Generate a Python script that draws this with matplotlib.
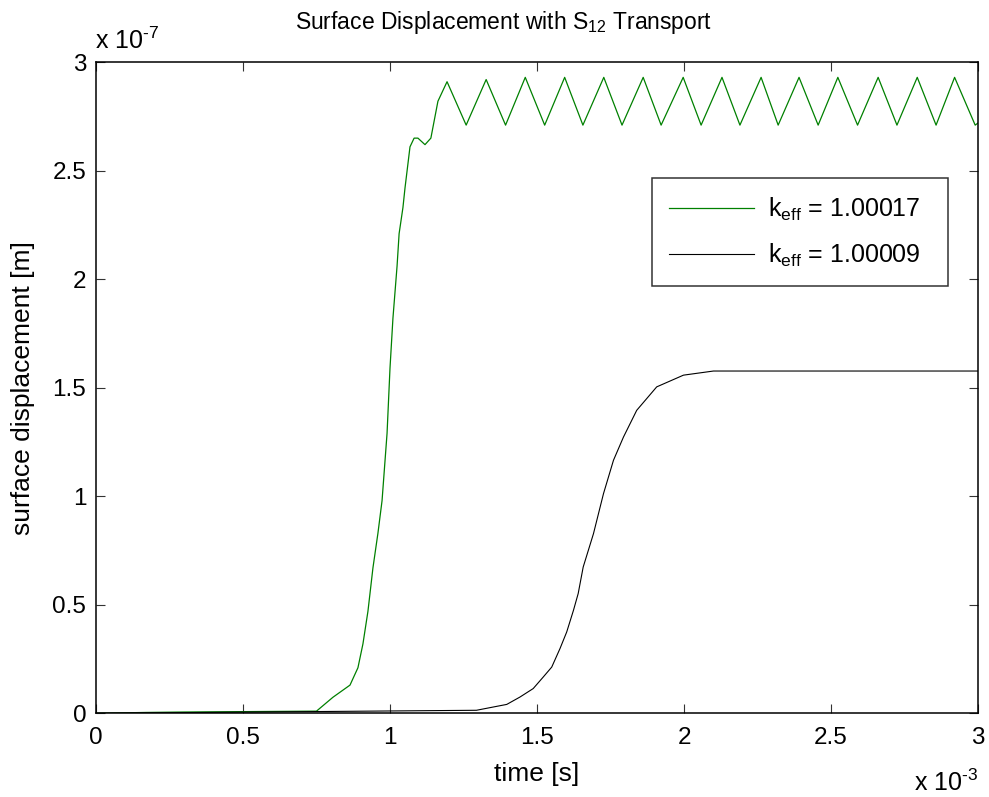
import numpy as np
import matplotlib
matplotlib.use("Agg")
import matplotlib.pyplot as plt
from matplotlib.ticker import FormatStrFormatter

plt.rcParams['font.family'] = ['Liberation Sans', 'DejaVu Sans']
plt.rcParams['mathtext.fontset'] = 'custom'
plt.rcParams['mathtext.rm'] = 'Liberation Sans'
plt.rcParams['mathtext.it'] = 'Liberation Sans'

# time in units of 1e-3 s, displacement in units of 1e-7 m
t_fast = [0.0, 0.17, 0.30, 0.75, 0.806, 0.864, 0.891, 0.908, 0.925, 0.942, 0.959,
          0.973, 0.990, 1.000, 1.010, 1.024, 1.031, 1.044, 1.051, 1.068, 1.082,
          1.095, 1.119, 1.139, 1.163, 1.194, 1.259, 1.327, 1.393, 1.460, 1.526,
          1.594, 1.656, 1.727, 1.789, 1.861, 1.922, 1.997, 2.058, 2.129, 2.190,
          2.262, 2.320, 2.391, 2.456, 2.523, 2.590, 2.660, 2.724, 2.793, 2.857,
          2.920, 2.990, 3.0]
d_fast = [0.0, 0.004, 0.006, 0.01, 0.074, 0.13, 0.21, 0.32, 0.47, 0.67, 0.83,
          0.98, 1.29, 1.59, 1.82, 2.06, 2.21, 2.33, 2.42, 2.61, 2.65,
          2.65, 2.62, 2.65, 2.82, 2.91, 2.71, 2.92, 2.71, 2.93, 2.71,
          2.93, 2.71, 2.93, 2.71, 2.93, 2.71, 2.93, 2.71, 2.93, 2.71,
          2.93, 2.71, 2.93, 2.71, 2.93, 2.71, 2.93, 2.71, 2.93, 2.71,
          2.93, 2.71, 2.72]

t_slow = [0.0, 1.294, 1.351, 1.397, 1.442, 1.487, 1.521, 1.550, 1.578, 1.601,
          1.624, 1.640, 1.657, 1.692, 1.726, 1.760, 1.794, 1.839, 1.907, 1.998,
          2.100, 3.0]
d_slow = [0.0, 0.014, 0.029, 0.041, 0.075, 0.114, 0.167, 0.213, 0.298, 0.375,
          0.475, 0.552, 0.674, 0.828, 1.012, 1.166, 1.273, 1.396, 1.504, 1.558,
          1.577, 1.577]

labels = [r'k$_{\mathrm{eff}}$ = 1.00017', r'k$_{\mathrm{eff}}$ = 1.00009']

fig = plt.figure(figsize=(9.89, 7.97), dpi=100)
ax = fig.add_axes([0.097, 0.105, 0.892, 0.817])

ax.plot(t_fast, d_fast, color='#008000', linewidth=0.9, label=labels[0])
ax.plot(t_slow, d_slow, color='black', linewidth=0.8, label=labels[1])

ax.set_xlim(0, 3)
ax.set_ylim(0, 3)
ax.set_xticks(np.arange(0, 3.01, 0.5))
ax.set_yticks(np.arange(0, 3.01, 0.5))
ax.xaxis.set_major_formatter(FormatStrFormatter('%g'))
ax.yaxis.set_major_formatter(FormatStrFormatter('%g'))
ax.tick_params(direction='in', top=True, right=True, length=6.5, width=0.8,
               color='#333333', labelsize=17.5)
ax.tick_params(axis='x', pad=10)
ax.tick_params(axis='y', pad=7)
for s in ax.spines.values():
    s.set_linewidth(1.1)

ax.set_xlabel('time [s]', fontsize=19)
ax.xaxis.set_label_coords(0.5, -0.074)
ax.set_ylabel('surface displacement [m]', fontsize=19)
ax.yaxis.set_label_coords(-0.069, 0.5)

fig.text(0.5096, 0.9636, r'Surface Displacement with S$_{12}$ Transport',
         fontsize=16.5, ha='center', va='baseline')
fig.text(0.096, 0.9385, r'x 10$^{\text{-7}}$', fontsize=18, ha='left', va='baseline')
fig.text(0.989, 0.0075, r'x 10$^{\text{-3}}$', fontsize=18, ha='right', va='baseline')

leg = ax.legend(loc='upper left', bbox_to_anchor=(0.630, 0.654, 0.336, 0.168),
                mode='expand', fontsize=18, handlelength=3.4, frameon=True,
                fancybox=False, borderpad=0.7, labelspacing=0.75,
                handletextpad=0.55, borderaxespad=0.0)
leg.get_frame().set_edgecolor('black')
leg.get_frame().set_linewidth(1.1)

fig.savefig('out.png', dpi=100)
